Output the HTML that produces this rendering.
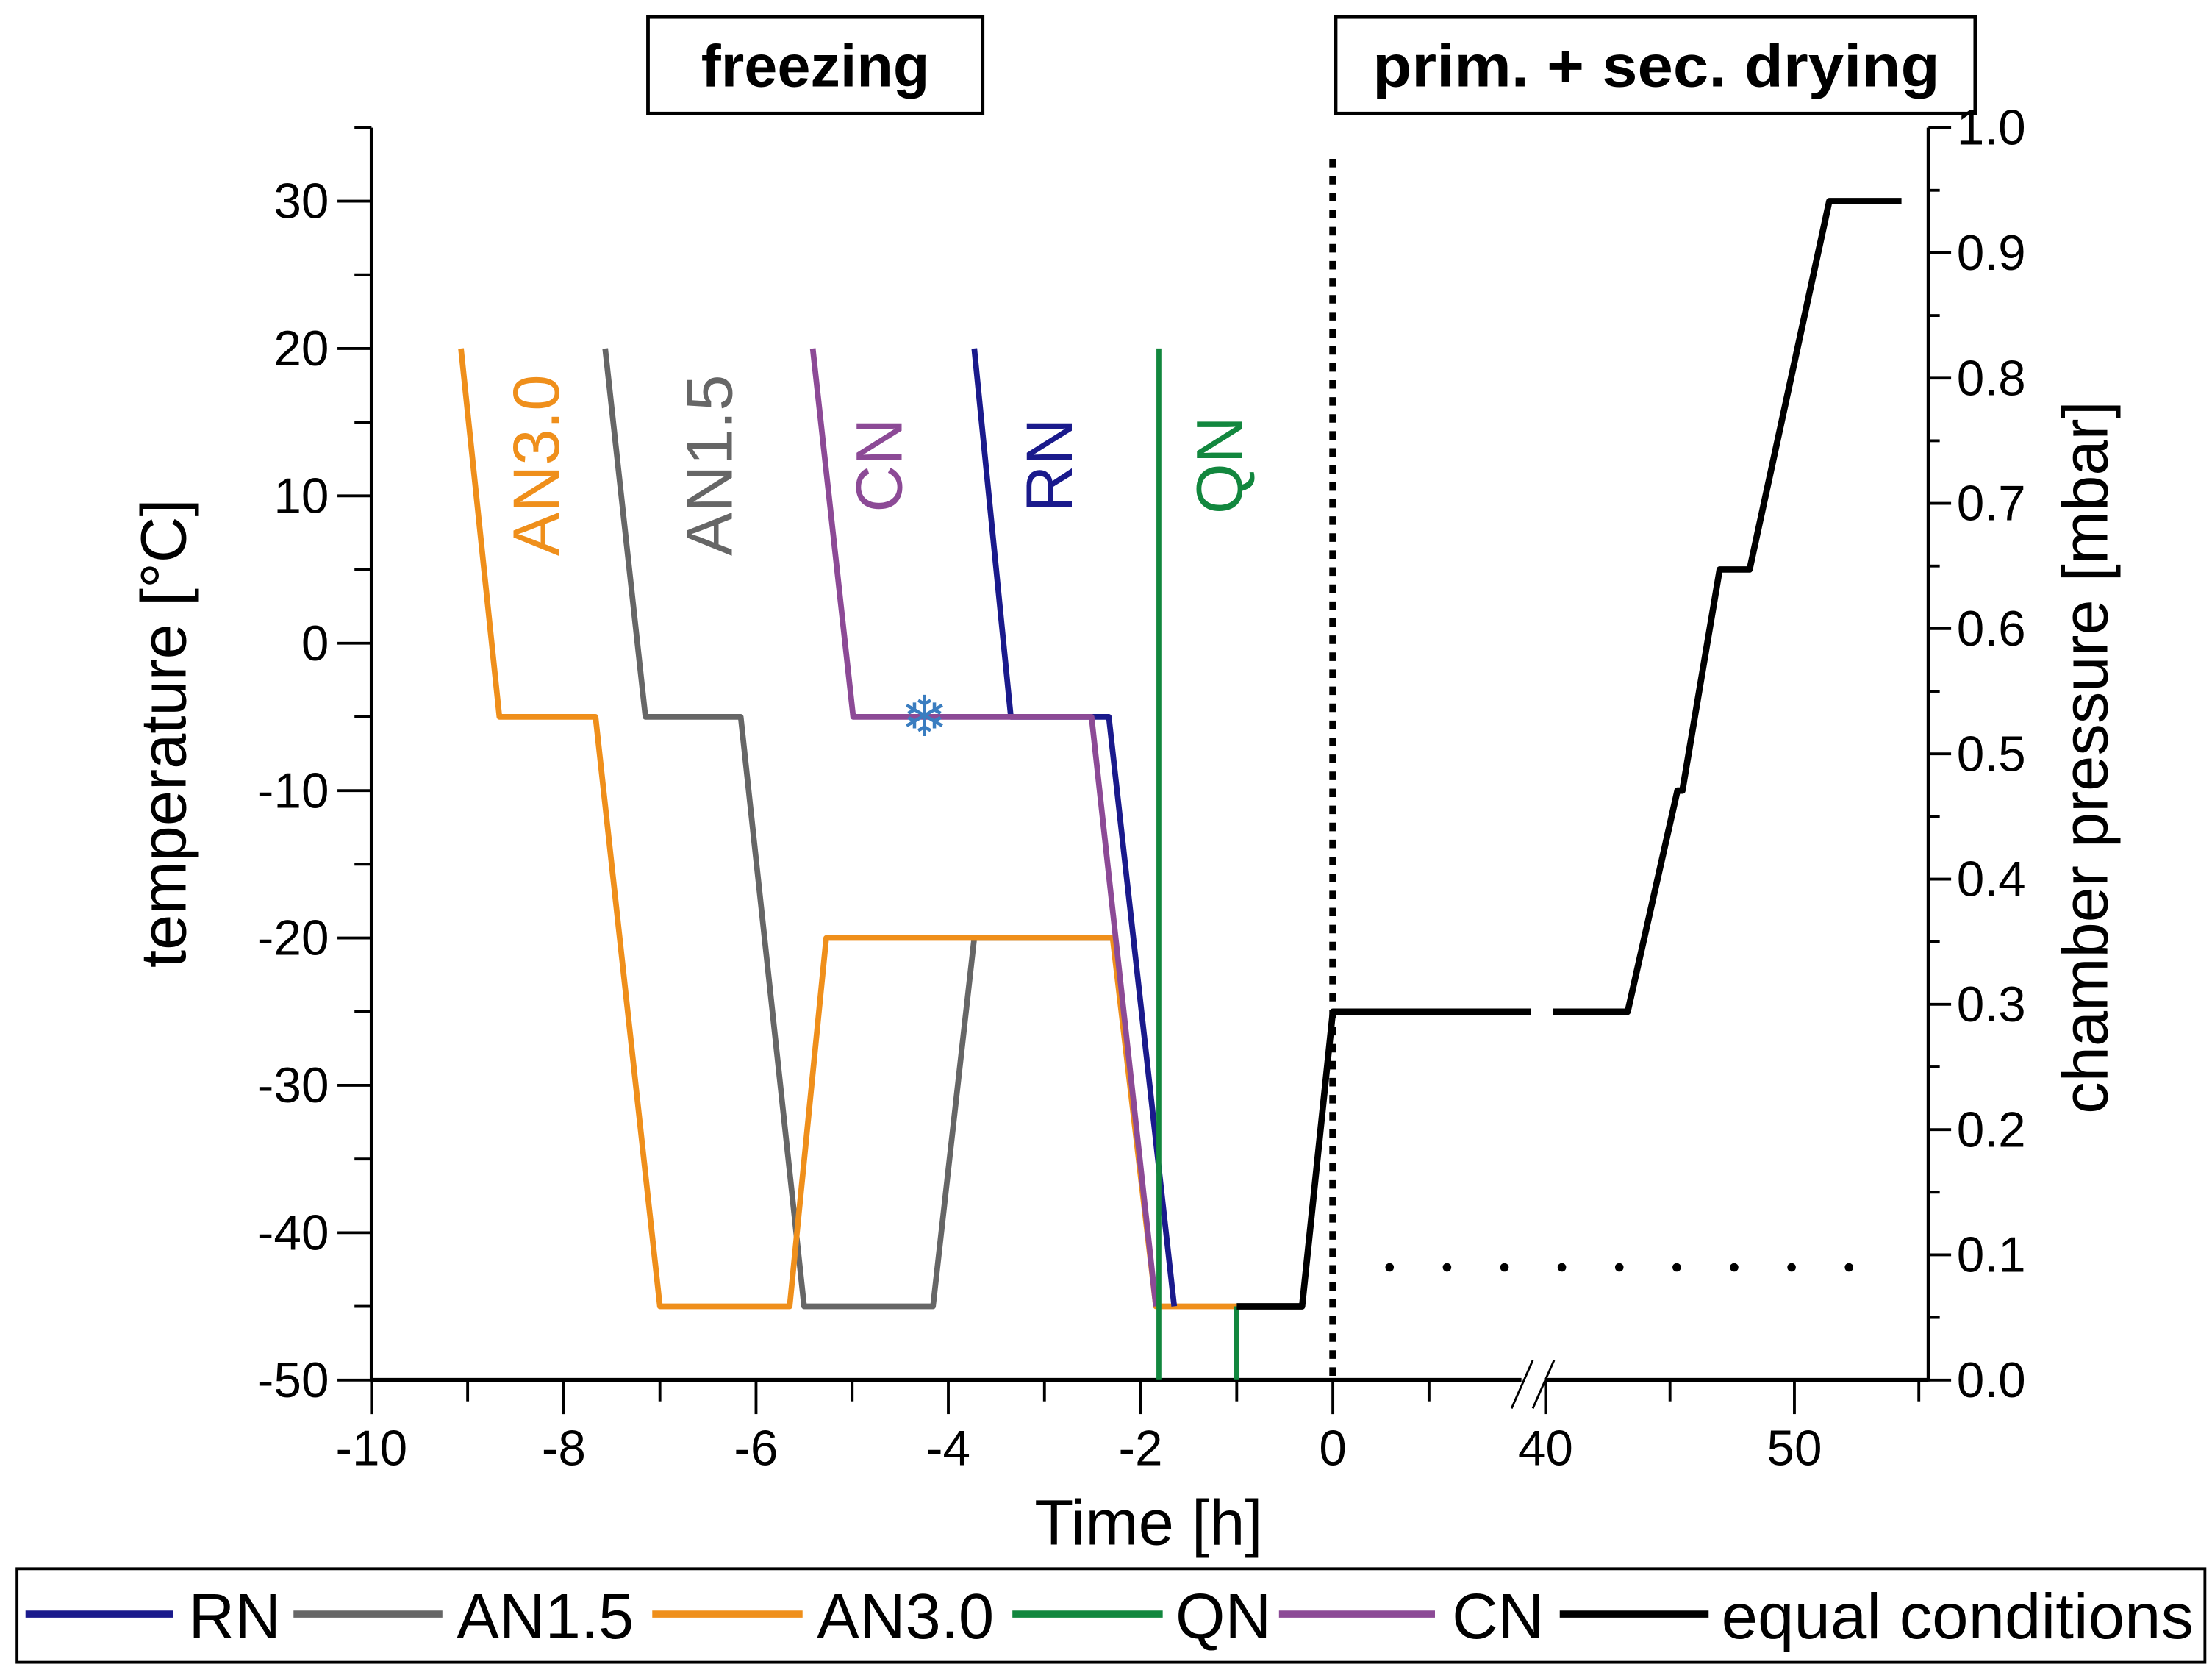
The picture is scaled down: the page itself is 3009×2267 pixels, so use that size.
<!DOCTYPE html>
<html><head><meta charset="utf-8"><style>
html,body{margin:0;padding:0;background:#fff;}
svg{display:block;}
text{font-family:"Liberation Sans",sans-serif;}
</style></head><body>
<svg id="chart" width="3009" height="2267" viewBox="0 0 1560 1175.3" xmlns="http://www.w3.org/2000/svg">
<rect x="0" y="0" width="1560" height="1176" fill="#fff"/>
<g>
<rect x="457" y="12" width="236" height="68" fill="#fff" stroke="#000" stroke-width="2.5"/>
<text x="575" y="61" font-size="42" font-weight="bold" text-anchor="middle">freezing</text>
</g>
<g>
<rect x="942" y="12" width="451" height="68" fill="#fff" stroke="#000" stroke-width="2.5"/>
<text x="1168" y="61" font-size="42" font-weight="bold" text-anchor="middle" textLength="400" lengthAdjust="spacingAndGlyphs">prim. + sec. drying</text>
</g>
<g id="axes"></g>
<g id="series"></g>
<g id="labels"></g>
<g>
<rect x="12" y="1106" width="1543" height="66" fill="#fff" stroke="#000" stroke-width="2"/>
<line x1="18" y1="1138" x2="122" y2="1138" stroke="#1a1a8c" stroke-width="5"/>
<text x="133" y="1155" font-size="45">RN</text>
<line x1="207" y1="1138" x2="312" y2="1138" stroke="#666" stroke-width="5"/>
<text x="322" y="1155" font-size="45">AN1.5</text>
<line x1="460" y1="1138" x2="566" y2="1138" stroke="#ef8f1b" stroke-width="5"/>
<text x="576" y="1155" font-size="45">AN3.0</text>
<line x1="714" y1="1138" x2="820" y2="1138" stroke="#12873e" stroke-width="5"/>
<text x="829" y="1155" font-size="45">QN</text>
<line x1="902" y1="1138" x2="1012" y2="1138" stroke="#8c4a96" stroke-width="5"/>
<text x="1024" y="1155" font-size="45">CN</text>
<line x1="1100" y1="1138" x2="1205" y2="1138" stroke="#000" stroke-width="5"/>
<text x="1214" y="1155" font-size="45" textLength="333" lengthAdjust="spacingAndGlyphs">equal conditions</text>
</g>
</svg>
<script>
// ---- data ----
const seriesNames = ["RN","AN1.5","AN3.0","QN","CN"];
const rnTime = [-3.73,-3.35,-2.33,-1.65];
const rnTemp = [20,-5,-5,-45];
const an15Time = [-7.57,-7.15,-6.16,-5.5,-4.16,-3.73,-2.3];
const an15Temp = [20,-5,-5,-45,-45,-20,-20];
const an30Time = [-9.07,-8.67,-7.67,-7.0,-5.65,-5.27,-2.29,-1.84,-1.0];
const an30Temp = [20,-5,-5,-45,-45,-20,-20,-45,-45];
const qnTime = [-1.81,-1.81];
const qnTemp = [20,-50];
const qn2Time = [-1.0,-1.0];
const qn2Temp = [-45,-50];
const cnTime = [-5.41,-4.99,-2.51,-1.84];
const cnTemp = [20,-5,-5,-45];
const eqTimeA = [-1.0,-0.32,0,2.06];
const eqTempA = [-45,-45,-25,-25];
const eqTimeB = [40.3,43.3,45.3,45.5,47.0,48.2,51.4,54.3];
const eqTempB = [-25,-25,-10,-10,5,5,30,30];
const pressTime = [0,54.3];
const pressVal = [0.09,0.09];
const tempTicks = [30,20,10,0,-10,-20,-30,-40,-50];
const pressTicks = [1.0,0.9,0.8,0.7,0.6,0.5,0.4,0.3,0.2,0.1,0.0];
const timeTicksA = [-10,-8,-6,-4,-2,0];
const timeTicksB = [40,50];

// ---- scales ----
function xs(t){ return t<=20 ? 940+67.8*t : 1090+17.55*(t-40); }
function yT(v){ return 973-(v+50)*10.39; }
function yP(p){ return 973-p*883; }

const NS="http://www.w3.org/2000/svg";
function mk(tag,parent,attrs){const e=document.createElementNS(NS,tag);for(const k in attrs)e.setAttribute(k,attrs[k]);parent.appendChild(e);return e;}
const axes=document.getElementById('axes'), series=document.getElementById('series'), labels=document.getElementById('labels');

let a=mk('line',axes,{x1:262,y1:973,x2:1360,y2:973,stroke:'#000','stroke-width':3});
 
a=mk('line',axes,{x1:262,y1:90,x2:262,y2:974,stroke:'#000','stroke-width':2.5});
 
a=mk('line',axes,{x1:1360,y1:90,x2:1360,y2:974,stroke:'#000','stroke-width':2.5});
 
mk('rect',axes,{x:1073,y:966,width:16,height:14,fill:'#fff'});
let br=mk('path',axes,{d:'M1066,993 L1081,959 M1081,993 L1096,959',stroke:'#000','stroke-width':1.5,fill:'none'});
 

for(let v=-50; v<=35; v+=5){
  const y=yT(v); const major=(v%10===0);
  mk('line',axes,{x1:major?238:250,y1:y,x2:262,y2:y,stroke:'#000','stroke-width':2});
}
tempTicks.forEach(v=>{
  const t=mk('text',labels,{x:232,y:yT(v)+12,'font-size':35,'text-anchor':'end'});
   
  t.textContent=String(v);
});
for(let i=0;i<=20;i++){
  const p=i*0.05; const y=yP(p); const major=(i%2===0);
  mk('line',axes,{x1:1360,y1:y,x2:major?1376:1368,y2:y,stroke:'#000','stroke-width':2});
}
pressTicks.forEach(p=>{
  const t=mk('text',labels,{x:1380,y:yP(p)+12,'font-size':35});
   
  t.textContent=p.toFixed(1);
});
for(let h=-10;h<=1;h++){
  const x=xs(h); const major=(h%2===0);
  mk('line',axes,{x1:x,y1:973,x2:x,y2:major?997:988,stroke:'#000','stroke-width':2});
}
[40,45,50,55].forEach(h=>{
  const x=xs(h); const major=(h%10===0);
  mk('line',axes,{x1:x,y1:973,x2:x,y2:major?997:988,stroke:'#000','stroke-width':2});
});
timeTicksA.concat(timeTicksB).forEach(h=>{
  const t=mk('text',labels,{x:xs(h),y:1033,'font-size':35,'text-anchor':'middle'});
   
  t.textContent=String(h);
});
let tt=mk('text',labels,{x:810,y:1089,'font-size':45,'text-anchor':'middle'});
 
tt.textContent='Time [h]';
tt=mk('text',labels,{x:0,y:0,'font-size':45,'text-anchor':'middle',transform:'translate(131,517) rotate(-90)'});
 
tt.textContent='temperature [°C]';
tt=mk('text',labels,{x:0,y:0,'font-size':45,'text-anchor':'middle',transform:'translate(1486,534) rotate(-90)'});
 
tt.textContent='chamber pressure [mbar]';

function poly(ts,vs,color,w,name){
  const pts=ts.map((t,i)=>xs(t).toFixed(1)+','+yT(vs[i]).toFixed(1)).join(' ');
  const e=mk('polyline',series,{points:pts,fill:'none',stroke:color,'stroke-width':w,'stroke-linejoin':'round'});
  
  
  return e;
}
poly(an15Time,an15Temp,'#666',4,'series-an15');
poly(an30Time,an30Temp,'#ef8f1b',4,'series-an30');
poly(rnTime,rnTemp,'#1a1a8c',4,'series-rn');
poly(cnTime,cnTemp,'#8c4a96',4,'series-cn');
poly(qnTime,qnTemp,'#12873e',3.5,'series-qn');
poly(qn2Time,qn2Temp,'#12873e',3.5,'series-qn-end');
poly(eqTimeA,eqTempA,'#000',4.5,'series-equal-conditions-a');
poly(eqTimeB,eqTempB,'#000',4.5,'series-equal-conditions-b');
const pl=mk('line',series,{x1:xs(pressTime[0])+40,y1:yP(pressVal[0]),x2:xs(pressTime[1]),y2:yP(pressVal[1]),stroke:'#000','stroke-width':6,'stroke-linecap':'round','stroke-dasharray':'0 40.5'});


const dv=mk('line',series,{x1:xs(0),y1:112,x2:xs(0),y2:972,stroke:'#000','stroke-width':5,'stroke-dasharray':'6 6'});



const lbls=[["AN3.0",378,'#ef8f1b'],["AN1.5",500,'#666'],["CN",620,'#8c4a96'],["RN",740,'#1a1a8c'],["QN",860,'#12873e']];
lbls.forEach(l=>{
  const anchorX = l[1]+16;
  const t=mk('text',labels,{x:0,y:0,'font-size':46,fill:l[2],'text-anchor':'middle',transform:'translate('+anchorX+',328) rotate(-90)'});
  
  
  t.textContent=l[0];
});
const sf=mk('text',labels,{x:652,y:519,'font-size':40,fill:'#3a7dc0','text-anchor':'middle'});


sf.textContent='❄';
</script>
</body></html>
